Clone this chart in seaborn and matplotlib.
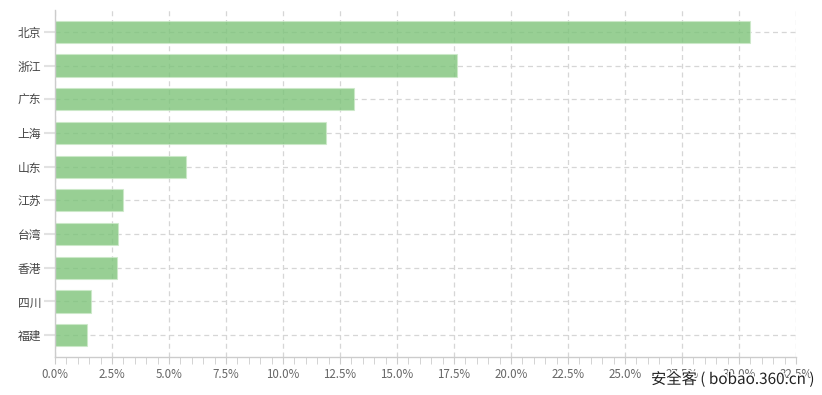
import matplotlib
matplotlib.use('Agg')
import matplotlib.pyplot as plt
import matplotlib.patheffects as pe
from matplotlib.ticker import MultipleLocator, PercentFormatter
import pandas as pd
import seaborn as sns

# data (share in %)
provinces = ['北京', '浙江', '广东', '上海', '山东', '江苏', '台湾', '香港', '四川', '福建']
share = [30.5, 17.65, 13.1, 11.9, 5.75, 3.0, 2.78, 2.72, 1.6, 1.42]

df = pd.DataFrame({'province': provinces, 'share': share})

sns.set_style('white')
plt.rcParams['font.family'] = ['Noto Sans CJK SC', 'DejaVu Sans']

fig = plt.figure(figsize=(8.22, 3.95), dpi=100)
ax = fig.add_axes([55 / 822, 38 / 395, 741 / 822, 347 / 395])

sns.barplot(data=df, x='share', y='province', orient='h', color='#7ec47a',
            width=0.66, saturation=1, edgecolor='#cbe9c8', linewidth=0.8,
            alpha=0.8, ax=ax)

# dashed grid under semi transparent bars (seaborn switches the y grid off, so set it after)
ax.grid(True, axis='both', which='major', color='#d6d6d6', linestyle=(0, (4, 3)), linewidth=0.9)
ax.set_axisbelow(True)

ax.set_xlim(0, 32.5)
ax.set_ylim(9.65, -0.65)
ax.xaxis.set_major_locator(MultipleLocator(2.5))
ax.xaxis.set_minor_locator(MultipleLocator(0.5))
ax.xaxis.set_major_formatter(PercentFormatter(decimals=1))

for s in ['top', 'right']:
    ax.spines[s].set_visible(False)
for s in ['left', 'bottom']:
    ax.spines[s].set_color('#cccccc')
    ax.spines[s].set_linewidth(1)

ax.tick_params(axis='x', which='major', length=5, color='#cccccc', labelsize=8.3, labelcolor='#666666', pad=3)
ax.tick_params(axis='x', which='minor', length=5, color='#cccccc')
ax.tick_params(axis='y', length=8, width=1.5, color='#e2e2e2', labelsize=8.5, labelcolor='#444444', pad=2)
ax.tick_params(left=True, bottom=True, which='both')
ax.set_xlabel('')
ax.set_ylabel('')

fig.text(0.792, 0.028, '安全客 ( bobao.360.cn )', fontsize=11, color='#222222',
         path_effects=[pe.withStroke(linewidth=2, foreground='white')])

fig.savefig('out.png', dpi=100)
